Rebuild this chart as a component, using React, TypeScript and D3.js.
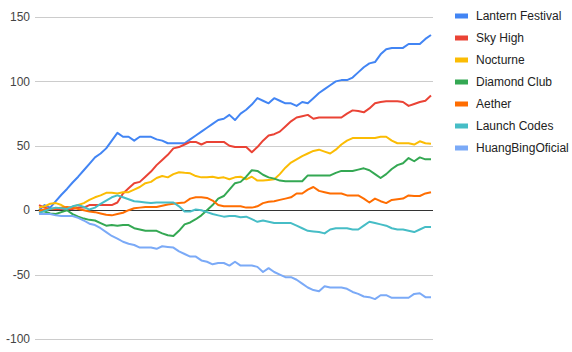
import React from "react";
import * as d3 from "d3";

const seriesNames = [
  "Lantern Festival",
  "Sky High",
  "Nocturne",
  "Diamond Club",
  "Aether",
  "Launch Codes",
  "HuangBingOficial",
];

const colors = ["#4285F4", "#EA4335", "#FBBC04", "#34A853", "#FF6D01", "#46BDC6", "#7BAAF7"];

const yTicks = [-100, -50, 0, 50, 100, 150];

// values, one per step
const lanternFestival = [
  0, 4, 2, 7, 12, 16.5, 21.5, 26, 31, 36, 41, 44, 48, 54, 60, 57, 57, 54, 57, 57,
  57, 55, 54, 52, 52, 52, 52, 55, 58, 61, 64, 67, 70, 71, 74, 70, 75, 78, 82, 87,
  85, 83, 87, 85, 83, 83, 81, 84, 83, 87, 91, 94, 97, 100, 101, 101, 103, 107, 111, 114,
  115, 121, 125, 126, 126, 126, 129, 129, 129, 133, 136,
];
const skyHigh = [
  4, 2, 1, 1, 1, 1, 1, 2, 2, 4, 4, 4, 4, 4, 6, 13, 17, 21, 22, 26,
  30, 35, 39, 43, 48, 49, 51, 53, 53, 51, 53, 53, 53, 53, 50, 49, 49, 49, 45, 49,
  54, 58, 59, 61, 65, 69, 72, 73, 74, 71, 72, 72, 72, 72, 72, 75, 77.5, 77, 76, 79,
  83, 84, 84.5, 84.5, 84.5, 84, 81, 82.5, 84, 85, 89,
];
const nocturne = [
  2, 3, 5, 5.5, 4, 1.5, 2.5, 4, 5.5, 8, 10, 11.5, 13.5, 13.5, 13, 14, 14, 16, 18, 21,
  22, 25, 26.5, 25.5, 28, 29.5, 29, 28.6, 26.5, 25.5, 25.5, 26, 25, 25.5, 24, 25.5, 26, 24, 26, 23,
  23, 23.5, 24, 28, 33, 37, 39.5, 42, 44, 46, 47, 45.5, 44, 47, 51, 54, 56, 56, 56, 56,
  56, 57, 57, 54, 52, 52, 52, 51, 53.5, 52, 51.5,
];
const diamondClub = [
  0, -1, -2.5, -3, -1.5, 0, -3, -5, -6.5, -7.5, -8, -10, -12, -11.5, -12, -11.5, -11.5, -14, -15, -16,
  -16, -16, -18, -19.5, -20, -16, -11, -9.5, -7, -4, 0, 4, 9, 11, 16, 21, 22, 26, 31, 30.5,
  27.5, 25.5, 24.5, 23, 22.5, 22.5, 22.5, 22.5, 27, 27, 27, 27, 27, 29, 30.5, 30.5, 30.5, 31.5, 32.5, 31,
  28, 25, 28, 32, 35, 36.5, 40.5, 38, 41, 39.5, 39.5,
];
const aether = [
  -0.5, 0.5, 1, 1.5, 2, 2.5, 2, 1, 0, -1, -1.5, -2.5, -3.5, -4, -3, -2, 0, 1.5, 2, 2.5,
  2.5, 2.5, 3.5, 4.5, 5, 5.5, 6, 9, 10, 10, 9.5, 7.5, 4, 3, 3, 3, 3, 2, 2, 3,
  5.5, 6.5, 7, 8, 9, 10, 13, 13, 16, 18, 15, 14, 13, 13, 13, 11.5, 11.5, 11.5, 9, 6,
  9, 7, 5.5, 8, 8.5, 9, 11.5, 11, 11, 13, 14,
];
const launchCodes = [
  -2.5, -0.5, 1, 2, 1.5, 1, 3, 4, 2.5, 0.5, 2, 5, 7.5, 10, 11.5, 10, 8.5, 7, 6.5, 6,
  5.5, 6, 6, 6, 6, 3, -1, -1, 0.5, 0, -1.5, -3, -4, -5, -4.5, -4.5, -5.5, -5, -7, -9,
  -8, -9, -10, -10, -10, -10, -12, -14, -16, -16.5, -17, -18, -15, -14, -14, -14, -15, -15, -12, -9,
  -10, -11, -12, -14, -15, -15, -16, -17, -15, -13, -13,
];
const huangBingOficial = [
  -3, -3, -3, -4, -4.5, -4.5, -4.5, -6, -8, -10.5, -11.5, -14, -17, -20, -22, -24.5, -26, -27, -29, -29,
  -29, -30, -28, -28.5, -29, -32, -34, -36, -36, -39, -40, -42, -41, -41, -43, -40, -43, -43, -43, -44,
  -48, -45, -48, -50, -52, -52, -54, -57, -60, -62, -63, -59, -60, -60, -60, -61, -63.5, -65, -67, -67.5,
  -69, -66, -66, -68, -68, -68, -68, -65, -64.5, -67.5, -67.5,
];

const series = [lanternFestival, skyHigh, nocturne, diamondClub, aether, launchCodes, huangBingOficial];

const width = 572;
const height = 352;
const font = "Arial, 'Liberation Sans', sans-serif";

export default function App() {
  const x = d3.scaleLinear().domain([0, lanternFestival.length - 1]).range([39, 431]);
  const y = d3.scaleLinear().domain([-100, 150]).range([339, 17]);
  const line = d3
    .line<number>()
    .x((_, i) => x(i))
    .y((d) => y(d));

  return (
    <svg
      width={width}
      height={height}
      style={{ position: "absolute", left: 0, top: 0, background: "#fff" }}
      fontFamily={font}
    >
      {/* gridlines and labels */}
      {yTicks.map((t) => (
        <g key={t}>
          <line
            x1={35}
            x2={433}
            y1={Math.round(y(t)) + 0.5}
            y2={Math.round(y(t)) + 0.5}
            stroke={t === 0 ? "#333" : "#ccc"}
            strokeWidth={1}
          />
          <text x={30} y={y(t)} dy="0.35em" textAnchor="end" fontSize={12} fill="#444">
            {t}
          </text>
        </g>
      ))}

      {series.map((s, k) => (
        <path
          key={seriesNames[k]}
          d={line(s) || ""}
          fill="none"
          stroke={colors[k]}
          strokeWidth={2}
          strokeLinejoin="round"
        />
      ))}

      {/* legend */}
      {seriesNames.map((name, k) => (
        <g key={name} transform={`translate(455,${16 + k * 22})`}>
          <rect x={0} y={-2.5} width={13} height={5} fill={colors[k]} />
          <text x={21} y={0} dy="0.35em" fontSize={12} fill="#222">
            {name}
          </text>
        </g>
      ))}
    </svg>
  );
}
